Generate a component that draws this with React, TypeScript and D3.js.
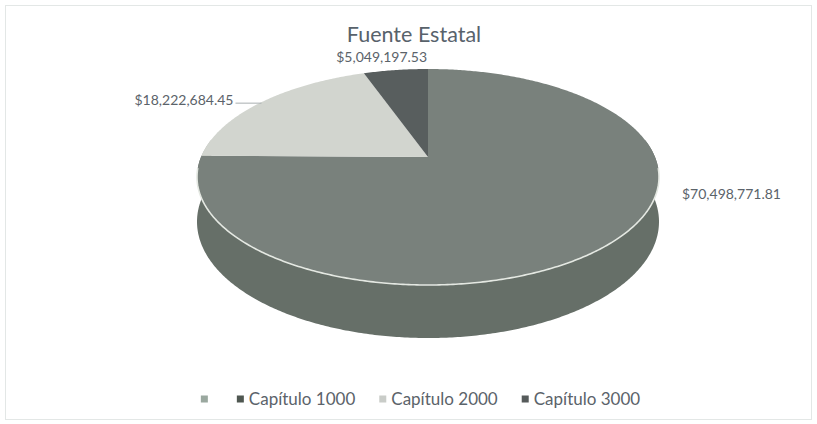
import React, { useRef, useEffect } from 'react';
import * as d3 from 'd3';

// data
const categories = ['', 'Capítulo 1000', 'Capítulo 2000', 'Capítulo 3000'];
const values = [0, 70498771.81, 18222684.45, 5049197.53];
const title = 'Fuente Estatal';

const topColors = ['#9aa79f', '#79817c', '#d2d5cf', '#585e5e'];
const sideColors = ['#86938b', '#666f68', '#b9bcb6', '#4a504f'];
const legendColors = ['#9aa89f', '#4f5751', '#c9ccc8', '#565b5b'];

const W = 817;
const H = 424;

const App = () => {
  const svgRef = useRef<SVGSVGElement | null>(null);

  useEffect(() => {
    document.body.style.margin = '0';
    const svg = d3.select(svgRef.current);
    svg.selectAll('*').remove();

    const font = 'Lato, "Open Sans", sans-serif';
    const textColor = '#5b636a';

    // light frame of the chart area
    svg.append('rect')
      .attr('x', 5.5).attr('y', 5.5)
      .attr('width', W - 11).attr('height', H - 10)
      .attr('fill', '#fff')
      .attr('stroke', '#e3e7e6')
      .attr('stroke-width', 1);

    // simple perspective projection of the pie disk
    const cx = 428, cy = 157, rx = 227, ry = 104.3, persp = 5.4, depth = 43.2;
    const project = (theta: number, down = 0): [number, number] => {
      const u = Math.sin(theta);
      const v = Math.cos(theta);
      const s = persp / (persp + v);
      return [cx + rx * u * s, cy - ry * v * s + depth * s * down];
    };
    const arcPoints = (a0: number, a1: number, down = 0) => {
      const n = Math.max(2, Math.ceil(Math.abs(a1 - a0) / 0.01));
      return d3.range(n + 1).map(i => project(a0 + (a1 - a0) * i / n, down));
    };
    const line = d3.line();

    const pie = d3.pie<number>().sort(null).value(d => d)
      .startAngle(0).endAngle(2 * Math.PI);
    const arcs = pie(values);

    const color = d3.scaleOrdinal<number, string>().domain(d3.range(categories.length)).range(topColors);
    const sideColor = d3.scaleOrdinal<number, string>().domain(d3.range(categories.length)).range(sideColors);

    // side wall (front half only)
    const frontStart = (80 / 180) * Math.PI;
    const frontEnd = (280 / 180) * Math.PI;
    arcs.forEach((a, i) => {
      const a0 = Math.max(a.startAngle, frontStart);
      const a1 = Math.min(a.endAngle, frontEnd);
      if (a1 <= a0) return;
      const pts = [...arcPoints(a0, a1, 0), ...arcPoints(a1, a0, 1)];
      svg.append('path')
        .attr('d', line(pts) + 'Z')
        .attr('fill', sideColor(i));
    });

    // top face
    arcs.forEach((a, i) => {
      if (a.endAngle - a.startAngle <= 0) return;
      const pts = [[cx, cy] as [number, number], ...arcPoints(a.startAngle, a.endAngle, 0)];
      svg.append('path')
        .attr('d', line(pts) + 'Z')
        .attr('fill', color(i));
    });

    // light rim between top face and side
    svg.append('path')
      .attr('d', line(arcPoints((96 / 180) * Math.PI, (264 / 180) * Math.PI, 0)))
      .attr('fill', 'none')
      .attr('stroke', '#e4e8e2')
      .attr('stroke-width', 1.6);

    // title
    svg.append('text')
      .attr('x', 414).attr('y', 42)
      .attr('text-anchor', 'middle')
      .attr('font-family', font)
      .attr('font-size', 21.5)
      .attr('fill', '#58626b')
      .text(title);

    // data labels
    const fmt = d3.format('$,.2f');
    const mid = (a: d3.PieArcDatum<number>) => (a.startAngle + a.endAngle) / 2;
    const labelSize = 14;

    // Capítulo 3000: above its slice
    {
      const [x, y] = project(mid(arcs[3]));
      svg.append('text')
        .attr('x', x - 14).attr('y', y - 8)
        .attr('text-anchor', 'middle')
        .attr('font-family', font).attr('font-size', labelSize)
        .attr('fill', textColor)
        .text(fmt(values[3]));
    }
    // Capítulo 2000: left, with leader line
    {
      const [x, y] = project(mid(arcs[2]));
      svg.append('line')
        .attr('x1', x - 26).attr('x2', x)
        .attr('y1', y + 1).attr('y2', y + 1)
        .attr('stroke', '#a9afb0').attr('stroke-width', 1);
      svg.append('text')
        .attr('x', x - 28).attr('y', y + 3)
        .attr('text-anchor', 'end')
        .attr('font-family', font).attr('font-size', labelSize)
        .attr('fill', textColor)
        .text(fmt(values[2]));
    }
    // Capítulo 1000: right of the pie
    {
      const [x, y] = project((100 / 180) * Math.PI);
      svg.append('text')
        .attr('x', x + 23).attr('y', y + 23)
        .attr('text-anchor', 'start')
        .attr('font-family', font).attr('font-size', labelSize)
        .attr('fill', textColor)
        .text(fmt(values[1]));
    }

    // legend
    const legend = svg.append('g');
    const marker = 7, gap = 5, spacing = 24, ly = 399;
    let xPos = 0;
    categories.forEach((c, i) => {
      const g = legend.append('g');
      g.append('rect')
        .attr('x', xPos).attr('y', ly - marker / 2)
        .attr('width', marker).attr('height', marker)
        .attr('fill', legendColors[i]);
      const t = g.append('text')
        .attr('x', xPos + marker + gap).attr('y', ly + 6)
        .attr('font-family', font).attr('font-size', 17)
        .attr('fill', textColor)
        .text(c);
      const tw = (t.node() as SVGTextElement).getComputedTextLength();
      xPos += marker + gap + tw + spacing;
    });
    const total = xPos - spacing;
    legend.attr('transform', `translate(${420.5 - total / 2},0)`);
  }, []);

  return (
    <div style={{ position: 'absolute', left: 0, top: 0 }}>
      <svg ref={svgRef} width={W} height={H} style={{ display: 'block' }} />
    </div>
  );
};

export default App;
